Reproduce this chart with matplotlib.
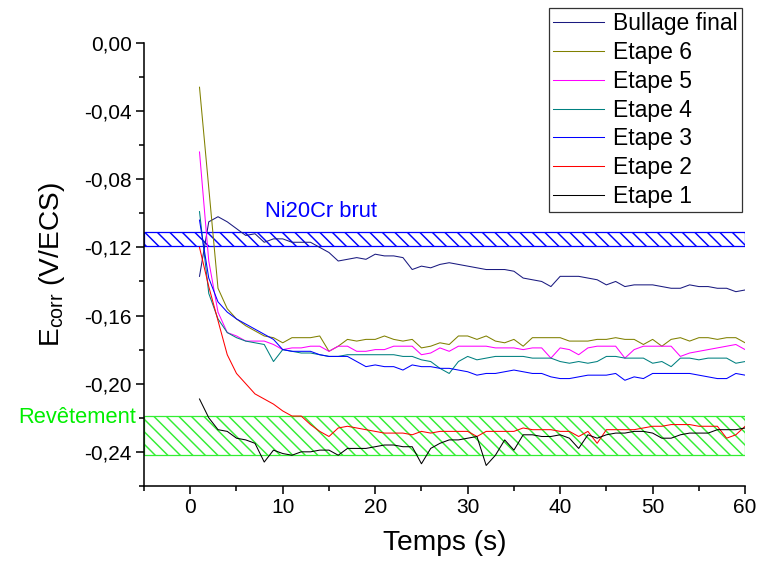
import matplotlib
matplotlib.use('Agg')
import matplotlib.pyplot as plt
from matplotlib.ticker import MultipleLocator, FuncFormatter

plt.rcParams['font.family'] = ['Liberation Sans', 'DejaVu Sans']
plt.rcParams['mathtext.fontset'] = 'custom'
plt.rcParams['mathtext.rm'] = 'Liberation Sans'
plt.rcParams['hatch.linewidth'] = 1.4

temps = list(range(1, 61))

bullage_final = [-0.137, -0.105, -0.102, -0.105, -0.109, -0.113, -0.112, -0.117, -0.115, -0.115,
                 -0.117, -0.117, -0.117, -0.120, -0.123, -0.128, -0.127, -0.126, -0.127, -0.124,
                 -0.125, -0.125, -0.126, -0.133, -0.131, -0.132, -0.130, -0.129, -0.130, -0.131,
                 -0.132, -0.133, -0.133, -0.133, -0.134, -0.138, -0.139, -0.140, -0.143, -0.137,
                 -0.137, -0.137, -0.138, -0.139, -0.142, -0.140, -0.143, -0.142, -0.142, -0.142,
                 -0.143, -0.144, -0.144, -0.142, -0.143, -0.143, -0.144, -0.144, -0.146, -0.145]
etape6 = [-0.026, -0.085, -0.144, -0.156, -0.162, -0.166, -0.169, -0.172, -0.173, -0.176,
          -0.173, -0.173, -0.173, -0.172, -0.181, -0.178, -0.174, -0.175, -0.174, -0.174,
          -0.172, -0.174, -0.175, -0.174, -0.179, -0.178, -0.176, -0.177, -0.172, -0.172,
          -0.174, -0.172, -0.175, -0.176, -0.174, -0.178, -0.173, -0.173, -0.173, -0.173,
          -0.175, -0.175, -0.175, -0.174, -0.174, -0.173, -0.174, -0.174, -0.177, -0.174,
          -0.178, -0.174, -0.173, -0.175, -0.173, -0.173, -0.174, -0.173, -0.173, -0.176]
etape5 = [-0.064, -0.128, -0.158, -0.170, -0.172, -0.175, -0.175, -0.175, -0.177, -0.180,
          -0.179, -0.179, -0.178, -0.178, -0.181, -0.178, -0.178, -0.181, -0.181, -0.180,
          -0.180, -0.178, -0.178, -0.178, -0.183, -0.182, -0.179, -0.181, -0.178, -0.178,
          -0.178, -0.178, -0.179, -0.179, -0.179, -0.180, -0.179, -0.179, -0.185, -0.179,
          -0.180, -0.183, -0.179, -0.178, -0.178, -0.178, -0.185, -0.180, -0.178, -0.178,
          -0.178, -0.178, -0.184, -0.182, -0.181, -0.180, -0.179, -0.178, -0.177, -0.180]
etape4 = [-0.099, -0.147, -0.162, -0.170, -0.173, -0.175, -0.176, -0.177, -0.187, -0.180,
          -0.181, -0.182, -0.182, -0.183, -0.184, -0.184, -0.183, -0.183, -0.183, -0.183,
          -0.183, -0.183, -0.184, -0.184, -0.186, -0.187, -0.191, -0.194, -0.187, -0.184,
          -0.186, -0.185, -0.184, -0.184, -0.184, -0.184, -0.185, -0.185, -0.185, -0.187,
          -0.188, -0.187, -0.188, -0.187, -0.184, -0.184, -0.185, -0.185, -0.185, -0.188,
          -0.187, -0.190, -0.185, -0.185, -0.186, -0.185, -0.185, -0.185, -0.188, -0.187]
etape3 = [-0.104, -0.138, -0.152, -0.158, -0.162, -0.165, -0.168, -0.171, -0.174, -0.180,
          -0.181, -0.181, -0.181, -0.183, -0.184, -0.184, -0.184, -0.187, -0.190, -0.189,
          -0.190, -0.190, -0.192, -0.189, -0.190, -0.190, -0.191, -0.191, -0.192, -0.193,
          -0.195, -0.194, -0.194, -0.193, -0.192, -0.193, -0.194, -0.194, -0.196, -0.197,
          -0.197, -0.196, -0.195, -0.195, -0.195, -0.194, -0.198, -0.196, -0.197, -0.194,
          -0.194, -0.194, -0.194, -0.194, -0.195, -0.196, -0.197, -0.197, -0.194, -0.195]
etape2 = [-0.120, -0.143, -0.163, -0.183, -0.194, -0.200, -0.206, -0.209, -0.212, -0.216,
          -0.219, -0.219, -0.224, -0.228, -0.231, -0.226, -0.225, -0.226, -0.227, -0.228,
          -0.229, -0.229, -0.229, -0.230, -0.228, -0.229, -0.228, -0.228, -0.228, -0.228,
          -0.231, -0.228, -0.228, -0.228, -0.228, -0.226, -0.227, -0.227, -0.227, -0.228,
          -0.228, -0.231, -0.228, -0.235, -0.227, -0.227, -0.227, -0.227, -0.226, -0.225,
          -0.225, -0.224, -0.224, -0.224, -0.225, -0.225, -0.225, -0.232, -0.230, -0.225]
etape1 = [-0.209, -0.220, -0.227, -0.228, -0.232, -0.233, -0.235, -0.246, -0.239, -0.241,
          -0.242, -0.240, -0.240, -0.239, -0.239, -0.242, -0.238, -0.238, -0.238, -0.237,
          -0.236, -0.236, -0.237, -0.237, -0.247, -0.238, -0.235, -0.233, -0.233, -0.232,
          -0.231, -0.248, -0.242, -0.233, -0.239, -0.230, -0.230, -0.231, -0.231, -0.230,
          -0.232, -0.238, -0.230, -0.232, -0.230, -0.229, -0.229, -0.228, -0.228, -0.229,
          -0.232, -0.232, -0.230, -0.229, -0.229, -0.229, -0.227, -0.227, -0.227, -0.226]

series = [bullage_final, etape6, etape5, etape4, etape3, etape2, etape1]
labels = ['Bullage final', 'Etape 6', 'Etape 5', 'Etape 4', 'Etape 3', 'Etape 2', 'Etape 1']
colors = ['#1a1a80', '#808000', '#ff00ff', '#008080', '#0000ff', '#ff0000', '#000000']

brut_band = (-0.119, -0.111)
revet_band = (-0.242, -0.219)

fig = plt.figure(figsize=(758 / 75, 565 / 75), dpi=75)
ax = fig.add_axes([0.190, 0.140, 0.793, 0.784])

# bandes hachurees de reference
ax.axhspan(brut_band[0], brut_band[1], facecolor='none', edgecolor='#0000ff',
           hatch='\\\\', linewidth=1.2, zorder=1)
ax.axhspan(revet_band[0], revet_band[1], facecolor='none', edgecolor='#33ee33',
           hatch='\\\\', linewidth=1.2, zorder=1)

for y, lab, c in zip(series, labels, colors):
    ax.plot(temps, y, color=c, lw=1.0, label=lab, zorder=2)

ax.text(8.1, -0.099, 'Ni20Cr brut', color='#0000ff', fontsize=21, va='center', ha='left')
ax.text(-5.8, -0.220, 'Revêtement', color='#00ee00', fontsize=21, va='center', ha='right',
        clip_on=False)

ax.set_xlim(-5, 60)
ax.set_ylim(-0.26, 0.0)
ax.xaxis.set_major_locator(MultipleLocator(10))
ax.xaxis.set_minor_locator(MultipleLocator(5))
ax.yaxis.set_major_locator(MultipleLocator(0.04))
ax.yaxis.set_minor_locator(MultipleLocator(0.02))


def virgule(v, pos):
    if abs(v) < 1e-9:
        return '0,00'
    return f'{v:.2f}'.replace('.', ',')


ax.yaxis.set_major_formatter(FuncFormatter(virgule))

ax.spines['right'].set_visible(False)
ax.spines['top'].set_visible(False)
ax.spines['left'].set_linewidth(1.5)
ax.spines['bottom'].set_linewidth(1.5)
ax.tick_params(which='major', direction='out', length=8, width=1.5, labelsize=20, pad=4)
ax.tick_params(which='minor', direction='out', length=5, width=1.5)

ax.set_xlabel('Temps (s)', fontsize=27, labelpad=12)
ax.set_ylabel('$\\mathregular{E_{corr}}$ (V/ECS)', fontsize=27, labelpad=16)

leg = ax.legend(loc='upper right', bbox_to_anchor=(0.979, 0.986),
                bbox_transform=fig.transFigure, fontsize=22, frameon=True,
                fancybox=False, edgecolor='#333333', framealpha=1,
                handlelength=2.2, handletextpad=0.4, labelspacing=0.25,
                borderpad=0.2, borderaxespad=0)
leg.get_frame().set_linewidth(1.2)

fig.savefig('out.png', dpi=75)
